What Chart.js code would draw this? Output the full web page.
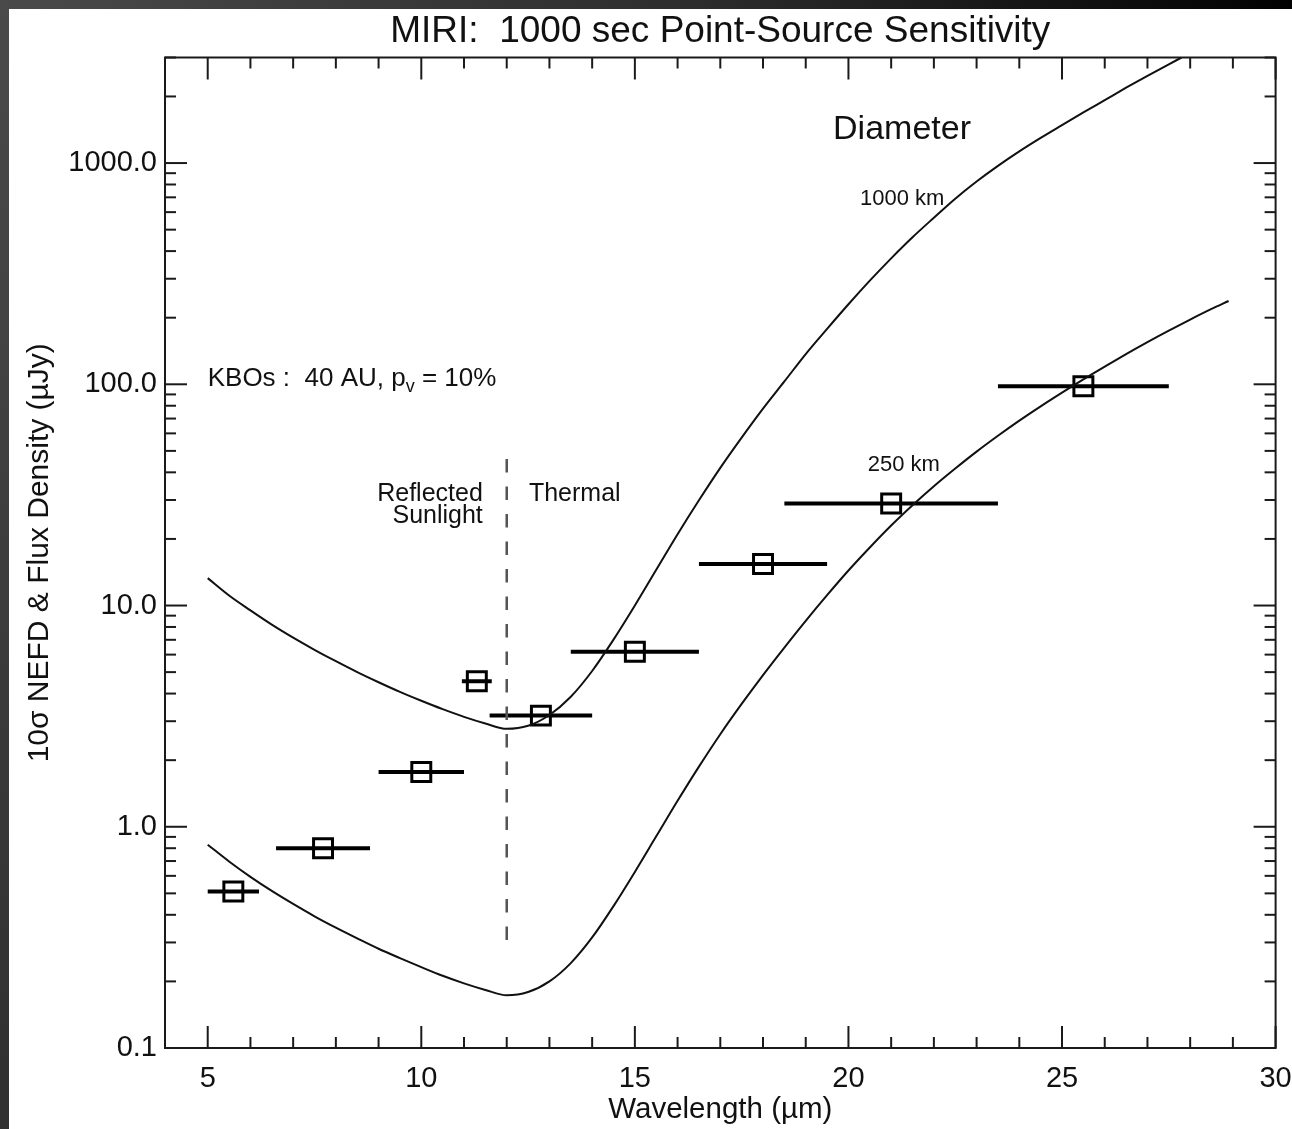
<!DOCTYPE html>
<html>
<head>
<meta charset="utf-8">
<script src="https://cdn.jsdelivr.net/npm/chart.js@4.4.1/dist/chart.umd.min.js"></script>
<style>
html,body{margin:0;padding:0;background:#fff;}
canvas{display:block;}
</style>
</head>
<body>
<canvas id="c" width="1292" height="1129"></canvas>
<script>
// ---------------- data ----------------
const wavelength1000 = [5.0, 5.5, 6.0, 6.5, 7.0, 7.5, 8.0, 8.5, 9.0, 9.5, 10.0, 10.5, 11.0, 11.5, 12.0, 12.5, 13.0, 13.5, 14.0, 14.5, 15.0, 15.5, 16.0, 16.5, 17.0, 17.5, 18.0, 18.5, 19.0, 19.5, 20.0, 20.5, 21.0, 21.5, 22.0, 22.5, 23.0, 23.5, 24.0, 24.5, 25.0, 25.5, 26.0, 26.5, 27.0, 27.5, 27.8];
const flux1000 =       [13.3, 11.1, 9.51, 8.2, 7.16, 6.31, 5.6, 5.0, 4.5, 4.07, 3.71, 3.4, 3.14, 2.93, 2.77, 2.86, 3.2, 3.87, 5.06, 7.01, 10.0, 14.5, 21.0, 29.9, 41.9, 57.4, 77.6, 103, 137, 178, 230, 294, 371, 462, 566, 690, 825, 971, 1129, 1299, 1484, 1693, 1925, 2190, 2480, 2796, 3000];

const wavelength250 = [5.0, 5.5, 6.0, 6.5, 7.0, 7.5, 8.0, 8.5, 9.0, 9.5, 10.0, 10.5, 11.0, 11.5, 12.0, 12.5, 13.0, 13.5, 14.0, 14.5, 15.0, 15.5, 16.0, 16.5, 17.0, 17.5, 18.0, 18.5, 19.0, 19.5, 20.0, 20.5, 21.0, 21.5, 22.0, 22.5, 23.0, 23.5, 24.0, 24.5, 25.0, 25.5, 26.0, 26.5, 27.0, 27.5, 28.0, 28.5, 28.9];
const flux250 =       [0.83, 0.697, 0.594, 0.513, 0.448, 0.394, 0.35, 0.313, 0.281, 0.255, 0.232, 0.212, 0.196, 0.183, 0.173, 0.179, 0.2, 0.242, 0.316, 0.438, 0.625, 0.905, 1.31, 1.87, 2.62, 3.59, 4.85, 6.46, 8.53, 11.14, 14.4, 18.3, 23.0, 28.4, 34.6, 41.6, 49.6, 58.5, 68.5, 79.5, 91.7, 105.3, 120.3, 136.9, 155.1, 174.8, 196.1, 219.0, 238];

const filterCenter = [5.6, 7.7, 10.0, 11.3, 12.8, 15.0, 18.0, 21.0, 25.5];
const filterNEFD   = [0.51, 0.80, 1.77, 4.55, 3.18, 6.18, 15.4, 28.9, 98.0];
const filterLow    = [5.0, 6.6, 9.0, 10.95, 11.6, 13.5, 16.5, 18.5, 23.5];
const filterHigh   = [6.2, 8.8, 11.0, 11.65, 14.0, 16.5, 19.5, 23.5, 27.5];

const dividerX = [12, 12];
const dividerY = [46, 0.3];

const xTickValues = [5, 10, 15, 20, 25, 30];
const xTickLabels = ['5', '10', '15', '20', '25', '30'];
const yTickValues = [0.1, 1, 10, 100, 1000];
const yTickLabels = ['0.1', '1.0', '10.0', '100.0', '1000.0'];

const chartTitle = 'MIRI:  1000 sec Point-Source Sensitivity';
const xAxisTitle = 'Wavelength (\u00B5m)';
const yAxisTitle = '10\u03C3 NEFD & Flux Density (\u00B5Jy)';

// ---------------- styling ----------------
const FONT = "'Liberation Sans', Arial, Helvetica, sans-serif";
const INK = '#111';
const TEXT_DY = 3;

const notes = [
  {text: 'Diameter',  x: 19.64, y: 1456, align: 'left',  size: 34},
  {text: '1000 km',   x: 20.27, y: 710,  align: 'left',  size: 22},
  {text: '250 km',    x: 20.45, y: 44.4, align: 'left',  size: 22},
  {text: 'Reflected', x: 11.44, y: 32.8, align: 'right', size: 25},
  {text: 'Sunlight',  x: 11.44, y: 26.1, align: 'right', size: 25},
  {text: 'Thermal',   x: 12.52, y: 32.8, align: 'left',  size: 25}
];
const kboNote = {x: 5.0, y: 108.7, size: 26, parts: ['KBOs :  40 AU, p', 'v', ' = 10%']};

const framePlugin = {
  id: 'frame',
  beforeDraw(chart) {
    const ctx = chart.ctx, W = chart.width, H = chart.height;
    ctx.save();
    ctx.fillStyle = '#fff';
    ctx.fillRect(0, 0, W, H);
    let g = ctx.createLinearGradient(0, 0, W, 0);
    g.addColorStop(0, '#4a4a4a');
    g.addColorStop(0.55, '#2c2c2c');
    g.addColorStop(1, '#020202');
    ctx.fillStyle = g;
    ctx.fillRect(0, 0, W, 9);
    g = ctx.createLinearGradient(0, 0, 0, H);
    g.addColorStop(0, '#4a4a4a');
    g.addColorStop(1, '#303030');
    ctx.fillStyle = g;
    ctx.fillRect(0, 0, 9, H);
    ctx.restore();
  },
  afterDraw(chart) {
    const ctx = chart.ctx, a = chart.chartArea, x = chart.scales.x, y = chart.scales.y;
    ctx.save();
    ctx.strokeStyle = '#1a1a1a';
    ctx.lineWidth = 2;
    ctx.strokeRect(a.left, a.top, a.right - a.left, a.bottom - a.top);
    const seg = (x1, y1, x2, y2) => { ctx.beginPath(); ctx.moveTo(x1, y1); ctx.lineTo(x2, y2); ctx.stroke(); };
    // x ticks (inward, bottom and top)
    for (let v = Math.ceil(x.min); v <= x.max; v++) {
      const px = x.getPixelForValue(v);
      const len = xTickValues.includes(v) ? 22 : 11;
      seg(px, a.bottom, px, a.bottom - len);
      seg(px, a.top, px, a.top + len);
    }
    // y ticks (inward, left and right)
    for (let e = -1; e <= 3; e++) {
      for (let m = 1; m <= 9; m++) {
        const v = m * Math.pow(10, e);
        if (v < y.min * 0.999 || v > y.max * 1.001) continue;
        const py = y.getPixelForValue(v);
        const len = m === 1 ? 22 : 11;
        seg(a.left, py, a.left + len, py);
        seg(a.right, py, a.right - len, py);
      }
    }
    // chart title, centred over the plot area
    ctx.fillStyle = INK;
    ctx.textBaseline = 'middle';
    ctx.textAlign = 'center';
    ctx.font = '37px ' + FONT;
    ctx.fillText(chartTitle, (a.left + a.right) / 2, 31.5);
    // text notes
    notes.forEach(n => {
      ctx.font = n.size + 'px ' + FONT;
      ctx.textAlign = n.align;
      ctx.fillText(n.text, x.getPixelForValue(n.x), y.getPixelForValue(n.y) + TEXT_DY);
    });
    // KBO note with subscript
    ctx.textAlign = 'left';
    let px = x.getPixelForValue(kboNote.x);
    const py = y.getPixelForValue(kboNote.y) + TEXT_DY;
    ctx.font = kboNote.size + 'px ' + FONT;
    ctx.fillText(kboNote.parts[0], px, py);
    px += ctx.measureText(kboNote.parts[0]).width;
    const sub = Math.round(kboNote.size * 0.68);
    ctx.font = sub + 'px ' + FONT;
    ctx.fillText(kboNote.parts[1], px, py + kboNote.size * 0.3);
    px += ctx.measureText(kboNote.parts[1]).width;
    ctx.font = kboNote.size + 'px ' + FONT;
    ctx.fillText(kboNote.parts[2], px, py);
    ctx.restore();
  }
};

// ---------------- datasets ----------------
const datasets = [];
datasets.push({
  label: '1000 km',
  data: wavelength1000.map((w, i) => ({x: w, y: flux1000[i]})),
  borderColor: INK, borderWidth: 2, pointRadius: 0, cubicInterpolationMode: 'monotone', fill: false
});
datasets.push({
  label: '250 km',
  data: wavelength250.map((w, i) => ({x: w, y: flux250[i]})),
  borderColor: INK, borderWidth: 2, pointRadius: 0, cubicInterpolationMode: 'monotone', fill: false
});
datasets.push({
  label: 'Reflected / Thermal',
  data: dividerX.map((w, i) => ({x: w, y: dividerY[i]})),
  borderColor: '#555', borderWidth: 2.5, borderDash: [13.5, 14], pointRadius: 0, fill: false
});
filterCenter.forEach((c, i) => {
  datasets.push({
    label: 'band ' + c,
    data: [{x: filterLow[i], y: filterNEFD[i]}, {x: filterHigh[i], y: filterNEFD[i]}],
    borderColor: '#000', borderWidth: 4, pointRadius: 0, borderCapStyle: 'butt', fill: false
  });
});
datasets.push({
  label: '10\u03C3 NEFD',
  data: filterCenter.map((c, i) => ({x: c, y: filterNEFD[i]})),
  showLine: false, pointStyle: 'rect', pointRadius: 13.4, pointBorderWidth: 3,
  pointBorderColor: '#000', pointBackgroundColor: 'rgba(0,0,0,0)'
});

Chart.defaults.font.family = FONT;
Chart.defaults.color = INK;

new Chart(document.getElementById('c'), {
  type: 'line',
  data: {datasets},
  plugins: [framePlugin],
  options: {
    responsive: false,
    animation: false,
    events: [],
    layout: {padding: {left: 0, right: 16, top: 57.5, bottom: 0}},
    plugins: {
      legend: {display: false},
      tooltip: {enabled: false},
      title: {display: false}
    },
    scales: {
      x: {
        type: 'linear', min: 4, max: 30,
        grid: {display: false, drawTicks: false},
        border: {display: false},
        afterBuildTicks: s => { s.ticks = xTickValues.map(v => ({value: v})); },
        afterFit: s => { s.height = 81; s.paddingLeft = 0; s.paddingRight = 0; },
        ticks: {
          color: INK, padding: 13.5, maxRotation: 0, autoSkip: false,
          font: {size: 29, family: FONT, lineHeight: 1.2},
          callback: (v, i) => xTickLabels[i]
        },
        title: {
          display: true, text: xAxisTitle, color: INK,
          font: {size: 29.5, family: FONT, lineHeight: 1.2},
          padding: {top: 0, bottom: 1.3}
        }
      },
      y: {
        type: 'logarithmic', min: 0.1, max: 3000,
        grid: {display: false, drawTicks: false},
        border: {display: false},
        afterBuildTicks: s => { s.ticks = yTickValues.map(v => ({value: v})); },
        afterFit: s => { s.width = 165; s.paddingTop = 0; s.paddingBottom = 0; },
        ticks: {
          color: INK, padding: 8, autoSkip: false,
          font: {size: 29, family: FONT, lineHeight: 1.2},
          callback: (v, i) => yTickLabels[i]
        },
        title: {
          display: true, text: yAxisTitle, color: INK,
          font: {size: 30, family: FONT, lineHeight: 1.2},
          padding: {top: 22, bottom: 0}
        }
      }
    }
  }
});
</script>
</body>
</html>
